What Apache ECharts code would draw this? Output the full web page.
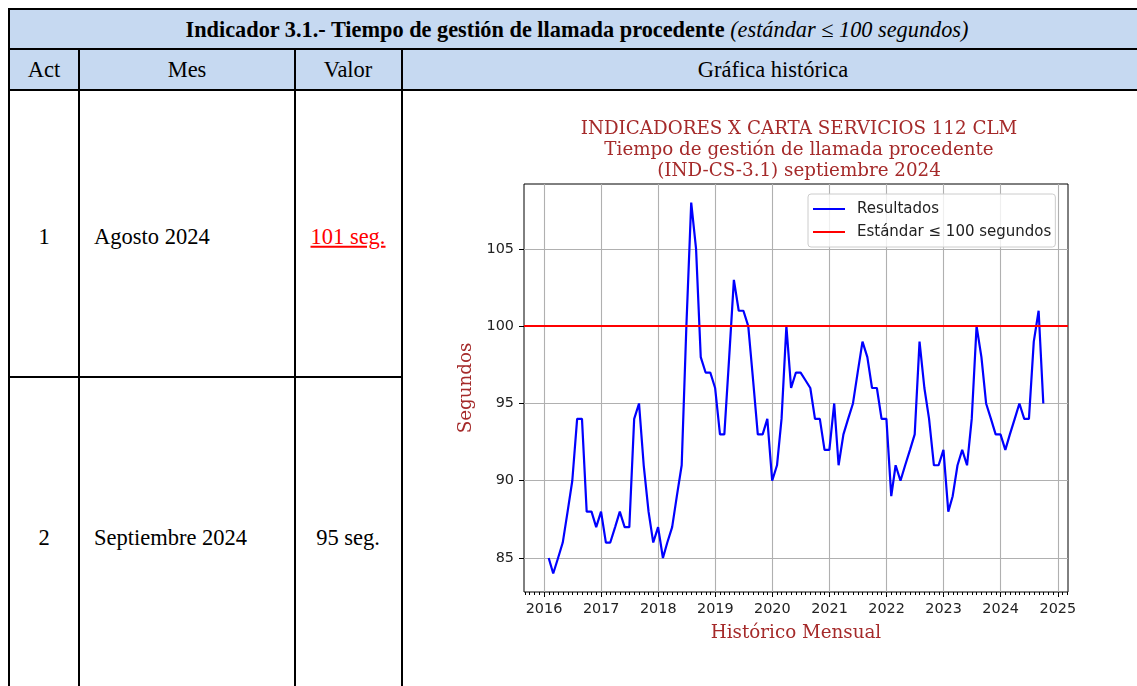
<!DOCTYPE html>
<html>
<head>
<meta charset="utf-8">
<script src="https://cdn.jsdelivr.net/npm/echarts@6/dist/echarts.min.js"></script>
<style>
body{margin:0;background:#fff;width:1137px;height:686px;overflow:hidden;position:relative;font-family:"Liberation Serif",serif;color:#000}
.ln{position:absolute;background:#000}
.fill{position:absolute;background:#c6d9f1}
.t{position:absolute;white-space:nowrap;font-size:22.5px;line-height:1}
.c{transform:translate(-50%,-50%)}
.l{transform:translateY(-50%)}
#grafica{position:absolute;left:403px;top:91px;width:734px;height:595px}
</style>
</head>
<body>
<div class="fill" style="left:8px;top:8px;width:1140px;height:82px"></div>

<div class="ln" style="left:8px;top:8px;width:1140px;height:2px"></div>
<div class="ln" style="left:8px;top:48px;width:1140px;height:2px"></div>
<div class="ln" style="left:8px;top:89px;width:1140px;height:2px"></div>
<div class="ln" style="left:8px;top:376px;width:394px;height:2px"></div>
<div class="ln" style="left:8px;top:8px;width:2px;height:700px"></div>
<div class="ln" style="left:78px;top:48px;width:2px;height:660px"></div>
<div class="ln" style="left:294px;top:48px;width:2px;height:660px"></div>
<div class="ln" style="left:401px;top:48px;width:2px;height:660px"></div>

<div class="t c" style="left:577px;top:30px;font-size:22.3px"><b>Indicador 3.1.- Tiempo de gestión de llamada procedente</b> <i>(estándar ≤ 100 segundos)</i></div>
<div class="t c" style="left:44px;top:70px">Act</div>
<div class="t c" style="left:187px;top:70px">Mes</div>
<div class="t c" style="left:348px;top:70px">Valor</div>
<div class="t c" style="left:773px;top:70px">Gráfica histórica</div>

<div class="t c" style="left:44px;top:237px">1</div>
<div class="t l" style="left:94px;top:237px">Agosto 2024</div>
<div class="t c" style="left:348px;top:237px;color:#ff0000;text-decoration:underline">101 seg.</div>

<div class="t c" style="left:44px;top:538px">2</div>
<div class="t l" style="left:94px;top:538px">Septiembre 2024</div>
<div class="t c" style="left:348px;top:538px">95 seg.</div>

<div id="grafica"></div>

<script>
// valores mensuales (segundos), de enero 2016 a septiembre 2024
var anios = [2016, 2017, 2018, 2019, 2020, 2021, 2022, 2023, 2024];
var v2016 = [85, 84, 85, 86, 88, 90, 94, 94, 88, 88, 87, 88];
var v2017 = [86, 86, 87, 88, 87, 87, 94, 95, 91, 88, 86, 87];
var v2018 = [85, 86, 87, 89, 91, 100, 108, 105, 98, 97, 97, 96];
var v2019 = [93, 93, 98, 103, 101, 101, 100, 96.5, 93, 93, 94, 90];
var v2020 = [91, 94, 100, 96, 97, 97, 96.5, 96, 94, 94, 92, 92];
var v2021 = [95, 91, 93, 94, 95, 97, 99, 98, 96, 96, 94, 94];
var v2022 = [89, 91, 90, 91, 92, 93, 99, 96, 94, 91, 91, 92];
var v2023 = [88, 89, 91, 92, 91, 94, 100, 98, 95, 94, 93, 93];
var v2024 = [92, 93, 94, 95, 94, 94, 99, 101, 95];
var valores = [v2016, v2017, v2018, v2019, v2020, v2021, v2022, v2023, v2024];

var estandar = 100;
var yTicks = [85, 90, 95, 100, 105];
var xTicks = ['2016', '2017', '2018', '2019', '2020', '2021', '2022', '2023', '2024', '2025'];

var rojo = '#a52a2a';

// cada valor se sitúa al final de su mes (eje en milisegundos)
var puntos = [];
anios.forEach(function (a, i) {
    valores[i].forEach(function (v, m) {
        puntos.push([new Date(a, m + 1, 0).getTime(), v]);
    });
});

var xMin = new Date(2015, 7, 26).getTime();
var xMax = new Date(2025, 2, 7).getTime();

var yearTicks = xTicks.map(function (y) { return new Date(+y, 0, 1).getTime(); });
var monthTicks = [];
for (var d = new Date(2015, 8, 1); d.getTime() <= xMax; d = new Date(d.getFullYear(), d.getMonth() + 1, 1)) {
    monthTicks.push(d.getTime());
}

var myChart = echarts.init(document.getElementById('grafica'));
var option = {
    animation: false,
    title: {
        text: 'INDICADORES X CARTA SERVICIOS 112 CLM\nTiempo de gestión de llamada procedente\n(IND-CS-3.1) septiembre 2024',
        left: 391,
        top: 23,
        textAlign: 'center',
        textStyle: {
            fontFamily: 'DejaVu Serif',
            fontSize: 18.3,
            fontWeight: 'normal',
            color: rojo,
            lineHeight: 21
        }
    },
    legend: {
        orient: 'vertical',
        left: 405,
        top: 103,
        icon: 'rect',
        itemWidth: 32,
        itemHeight: 2,
        itemGap: 8,
        padding: [7.5, 4, 7.5, 5],
        backgroundColor: 'rgba(255,255,255,0.8)',
        borderColor: '#cccccc',
        borderWidth: 1,
        borderRadius: 3,
        textStyle: {
            fontFamily: 'DejaVu Sans',
            fontSize: 15,
            color: '#222',
            padding: [0, 0, 0, 7]
        },
        data: ['Resultados', 'Estándar ≤ 100 segundos']
    },
    grid: {
        left: 121,
        top: 93,
        width: 544,
        height: 408,
        show: true,
        borderColor: '#000',
        borderWidth: 1,
        backgroundColor: 'transparent',
        outerBoundsMode: 'none'
    },
    xAxis: [{
        type: 'value',
        min: xMin,
        max: xMax,
        axisLine: {show: false},
        axisTick: {
            show: true,
            length: 5,
            customValues: yearTicks,
            lineStyle: {color: '#000'}
        },
        axisLabel: {
            customValues: yearTicks,
            margin: 10,
            fontFamily: 'DejaVu Sans',
            fontSize: 14.4,
            color: '#222',
            formatter: function (v) { return String(new Date(v).getFullYear()); }
        },
        splitLine: {show: true, lineStyle: {color: '#b0b0b0', width: 1.1}},
        name: 'Histórico Mensual',
        nameLocation: 'middle',
        nameGap: 32,
        nameTextStyle: {fontFamily: 'DejaVu Serif', fontSize: 18.3, color: rojo}
    }, {
        type: 'value',
        min: xMin,
        max: xMax,
        position: 'bottom',
        axisLine: {show: false},
        axisTick: {
            show: true,
            length: 3,
            customValues: monthTicks,
            lineStyle: {color: '#000'}
        },
        axisLabel: {show: false},
        splitLine: {show: false}
    }],
    yAxis: {
        type: 'value',
        min: 82.8,
        max: 109.2,
        axisLine: {show: false},
        axisTick: {
            show: true,
            length: 5,
            customValues: yTicks,
            lineStyle: {color: '#000'}
        },
        axisLabel: {
            customValues: yTicks,
            margin: 10,
            fontFamily: 'DejaVu Sans',
            fontSize: 14.4,
            color: '#222'
        },
        splitLine: {show: true, lineStyle: {color: '#b0b0b0', width: 1.1}},
        name: 'Segundos',
        nameLocation: 'middle',
        nameGap: 46,
        nameRotate: 90,
        nameTextStyle: {fontFamily: 'DejaVu Serif', fontSize: 18.3, color: rojo}
    },
    series: [{
        name: 'Resultados',
        type: 'line',
        data: puntos,
        symbol: 'none',
        color: '#0000ff',
        lineStyle: {color: '#0000ff', width: 2.2},
        z: 3
    }, {
        name: 'Estándar ≤ 100 segundos',
        type: 'line',
        data: [],
        symbol: 'none',
        color: '#ff0000',
        lineStyle: {color: '#ff0000', width: 2.2},
        markLine: {
            silent: true,
            symbol: 'none',
            label: {show: false},
            lineStyle: {color: '#ff0000', width: 2.2, type: 'solid'},
            data: [{yAxis: estandar}]
        },
        z: 4
    }]
};
myChart.setOption(option, true);
</script>
</body>
</html>
